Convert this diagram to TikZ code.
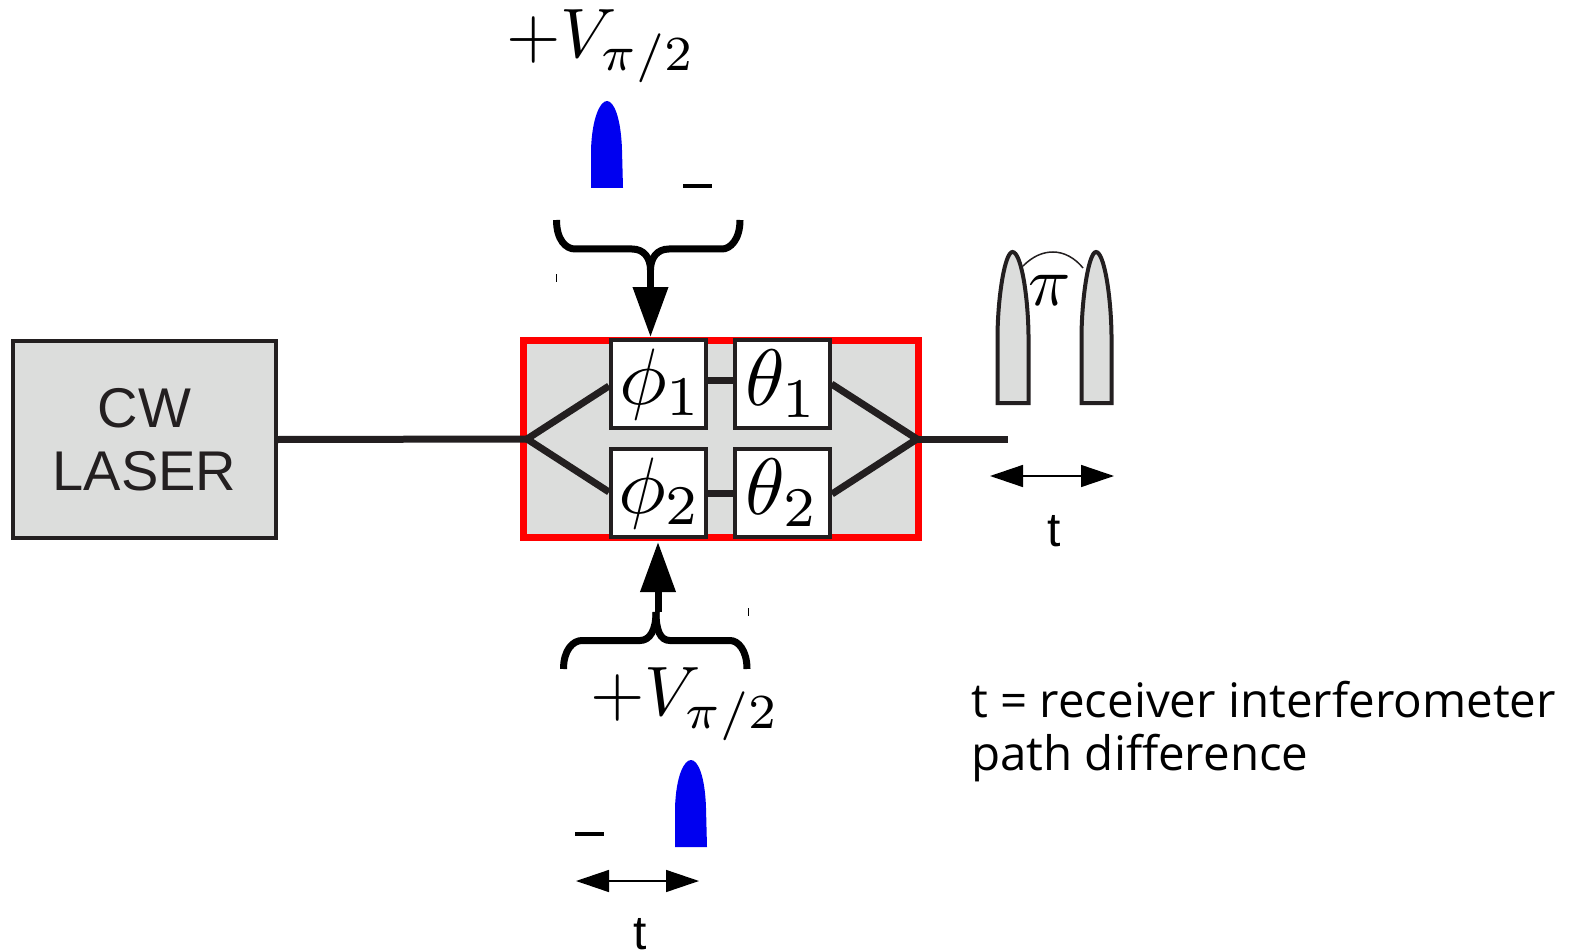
\documentclass[tikz,border=0pt]{standalone}
\usepackage{fontspec}
\setmainfont{Liberation Sans}
\newfontfamily\notefont{Open Sans}
\usetikzlibrary{arrows.meta}
\definecolor{ink}{HTML}{231F20}
\definecolor{panel}{HTML}{DCDDDC}
\definecolor{pulseblue}{HTML}{0000F0}
\newcommand{\mathscaled}[2]{\scalebox{#1}{$#2$}}
\tikzset{
  laserbox/.style={draw=ink,fill=panel,line width=4pt,minimum width=263pt,minimum height=197pt,inner sep=0pt,align=center,text=ink,font=\fontsize{56}{63}\selectfont},
  mzbox/.style={draw=red,fill=panel,line width=7pt,minimum width=395pt,minimum height=197pt,inner sep=0pt},
  phasebox/.style={draw=ink,fill=white,line width=4pt,minimum width=95pt,minimum height=88pt,inner sep=0pt},
  fibre/.style={draw=ink,line width=7pt},
  thick brace/.style={draw=black,line width=7pt},
  feed/.style={draw=black,line width=7pt,-{Triangle[length=50pt,width=34pt]}},
  span/.style={draw=black,line width=1.5pt,{Triangle[length=33pt,width=22pt]}-{Triangle[length=33pt,width=22pt]}},
  bluepulse/.style={fill=pulseblue},
  greypulse/.style={draw=ink,fill=panel,line width=4pt},
  label/.style={inner sep=0pt},
  dashmark/.style={fill=black}
}
\begin{document}
\begin{tikzpicture}[x=1pt,y=-1pt]
\useasboundingbox (0,0) rectangle (1572,952);
% laser and modulator
\node[laserbox] (laser) at (144.5,439.5) {CW\\LASER};
\node[mzbox] (mz) at (721,439) {};
\coordinate (split) at (527,439);
\coordinate (merge) at (917,439);
\coordinate (out) at (1008,439);
\draw[fibre] (laser.east) -- (split);
\draw[fibre] (merge) -- (out);
\node[phasebox] (phi1) at (658.5,384) {\hspace*{5pt}\mathscaled{8}{\phi_1}};
\node[phasebox] (theta1) at (782,383.5) {\mathscaled{8}{\theta_1}};
\node[phasebox] (phi2) at (658.5,493) {\hspace*{3pt}\mathscaled{8}{\phi_2}};
\node[phasebox] (theta2) at (782.5,493) {\mathscaled{8}{\theta_2}};
\draw[fibre] (phi1.west |- 0,386) -- (split) -- (phi2.west |- 0,492);
\draw[fibre] (theta1.east |- 0,384) -- (merge) -- (theta2.east |- 0,494);
\draw[fibre] (phi1.east |- 0,380.5) -- (theta1.west |- 0,380.5);
\draw[fibre] (phi2.east |- 0,493) -- (theta2.west |- 0,493);
% top drive
\node[label] (vtop) at (601,46) {\mathscaled{7}{+V_{\pi/2}}};
\path[bluepulse] (591,188) -- (591,150) .. controls (592,118) and (600,101) .. (607,101) .. controls (614,101) and (621,118) .. (622,150) -- (623,188) -- cycle;
\node[dashmark,minimum width=29pt,minimum height=4pt,inner sep=0pt] (dashtop) at (697.5,186.5) {};
\coordinate (btl) at (556.5,220);
\coordinate (btr) at (740,220);
\coordinate (btm) at (650.5,270);
\coordinate (btip) at (650.5,337);
\draw[thick brace] (btl) .. controls (556.5,240) and (566,249) .. (575,249) -- (632,249) .. controls (644,249) and (650.5,258) .. (btm);
\draw[thick brace] (btr) .. controls (740,240) and (730,249) .. (722,249) -- (669,249) .. controls (657,249) and (650.5,258) .. (btm);
\draw[feed] (btm) -- (btip);
\node[fill=black,minimum width=1pt,minimum height=8pt,inner sep=0pt] (ticktop) at (556.5,278) {};
% bottom drive
\node[label] (vbot) at (685,704) {\mathscaled{7}{+V_{\pi/2}}};
\path[bluepulse] (675,847) -- (675,808) .. controls (676,776) and (684,760) .. (691,760) .. controls (698,760) and (705,776) .. (706,808) -- (707,847) -- cycle;
\node[dashmark,minimum width=29pt,minimum height=4pt,inner sep=0pt] (dashbot) at (589.5,834) {};
\coordinate (bbl) at (563.5,669);
\coordinate (bbr) at (747,669);
\coordinate (bbm) at (658,612);
\coordinate (bbtip) at (658,542);
\draw[thick brace] (bbl) .. controls (563.5,650) and (573,640.5) .. (582,640.5) -- (640,640.5) .. controls (650,640.5) and (656,630) .. (656,612);
\draw[thick brace] (bbr) .. controls (747,650) and (738,640.5) .. (730,640.5) -- (670,640.5) .. controls (660,640.5) and (656,630) .. (656,612);
\draw[feed] (bbm) -- (bbtip);
\node[fill=black,minimum width=1pt,minimum height=8pt,inner sep=0pt] (tickbot) at (748,612) {};
% t spans
\coordinate (sb1) at (576,881);
\coordinate (sb2) at (699,881);
\draw[span] (sb1) -- (sb2);
\node[label,font=\fontsize{48}{48}\selectfont,anchor=base] (tbot) at (640,949) {t};
\coordinate (sr1) at (990,476);
\coordinate (sr2) at (1114,476);
\draw[span] (sr1) -- (sr2);
\node[label,font=\fontsize{48}{48}\selectfont,anchor=base] (tright) at (1054.5,546) {t};
% output pulses
\path[greypulse] (997.5,403) -- (997.5,335) .. controls (998,295) and (1005,252) .. (1012.5,252) .. controls (1021,252) and (1028,295) .. (1028.5,335) -- (1028.5,403) -- cycle;
\path[greypulse] (1081.5,403) -- (1081.5,335) .. controls (1082,295) and (1089,252) .. (1096,252) .. controls (1104,252) and (1111,295) .. (1111.5,335) -- (1111.5,403) -- cycle;
\coordinate (al) at (1023,266);
\coordinate (ar) at (1083,268);
\draw[draw=ink,line width=1.5pt] (al) .. controls (1033,256) and (1043,252) .. (1053,252) .. controls (1064,252) and (1075,258) .. (ar);
\node[label] (pi) at (1050,290) {\mathscaled{7}{\pi}};
% note
\node[label,anchor=base west,align=left,font=\notefont\fontsize{47.5}{53}\selectfont] (note) at (971,770) {t = receiver interferometer\\path difference};
\end{tikzpicture}
\end{document}
